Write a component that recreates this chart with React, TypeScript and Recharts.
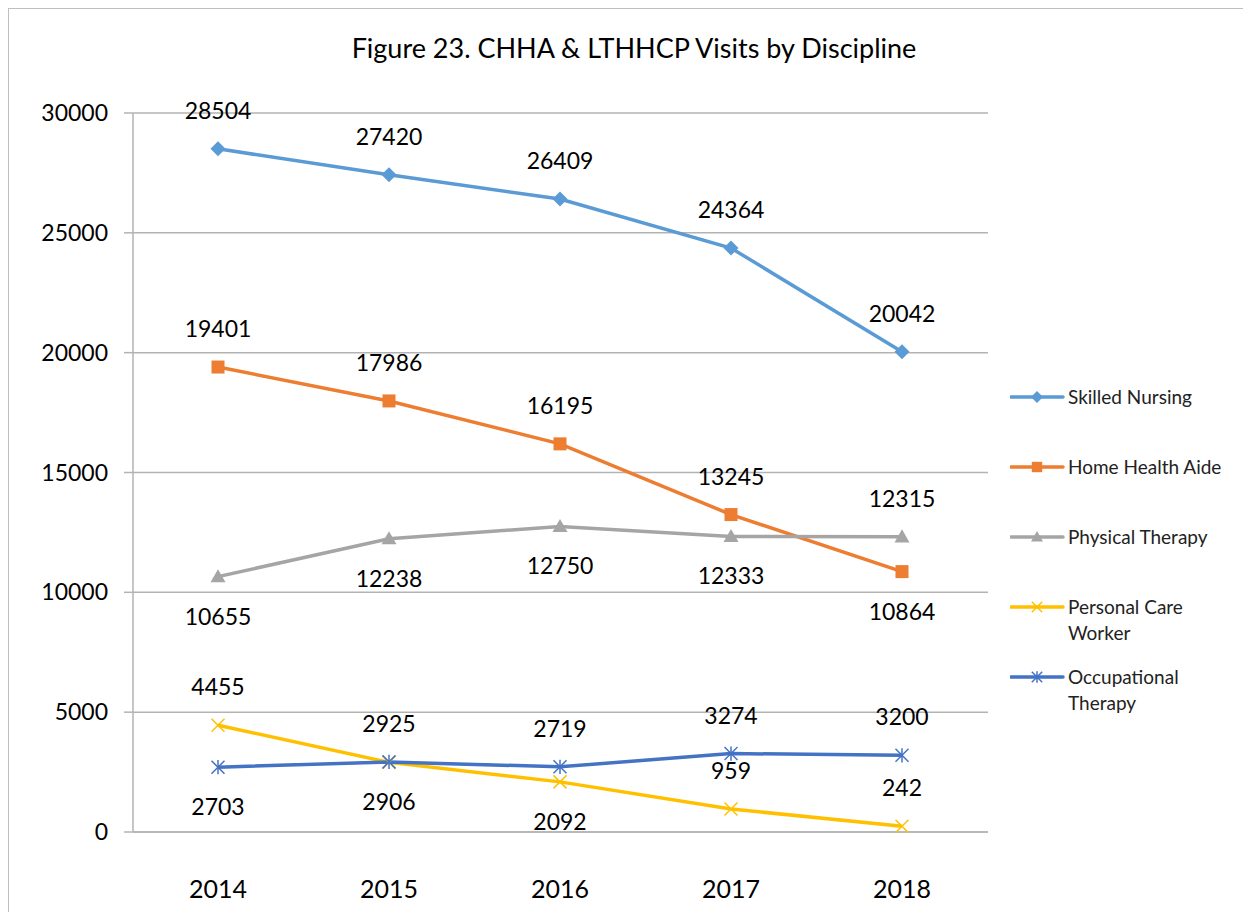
import { LineChart, Line, XAxis, YAxis, CartesianGrid, Legend, LabelList } from 'recharts'

const years = ['2014', '2015', '2016', '2017', '2018']
const skilledNursing = [28504, 27420, 26409, 24364, 20042]
const homeHealthAide = [19401, 17986, 16195, 13245, 10864]
const physicalTherapy = [10655, 12238, 12750, 12333, 12315]
const personalCare = [4455, 2906, 2092, 959, 242]
const occupational = [2703, 2925, 2719, 3274, 3200]
const yTicks = [0, 5000, 10000, 15000, 20000, 25000, 30000]

const FONT = 'Lato, "Noto Sans", sans-serif'

const data = years.map((year, i) => ({
    year,
    sn: skilledNursing[i],
    hha: homeHealthAide[i],
    pt: physicalTherapy[i],
    pcw: personalCare[i],
    ot: occupational[i],
}))

type Marker = 'diamond' | 'square' | 'triangle' | 'x' | 'star'

// label side per point: u = above, d = below
const series: Array<{ key: string; name: string[]; color: string; marker: Marker; sides: string }> = [
    { key: 'sn', name: ['Skilled Nursing'], color: '#5b9bd5', marker: 'diamond', sides: 'uuuuu' },
    { key: 'hha', name: ['Home Health Aide'], color: '#ed7d31', marker: 'square', sides: 'uuuud' },
    { key: 'pt', name: ['Physical Therapy'], color: '#a5a5a5', marker: 'triangle', sides: 'ddddu' },
    { key: 'pcw', name: ['Personal Care', 'Worker'], color: '#ffc000', marker: 'x', sides: 'uddu u'.replace(' ', '') },
    { key: 'ot', name: ['Occupational', 'Therapy'], color: '#4472c4', marker: 'star', sides: 'duuuu' },
]

function MarkerShape({ cx, cy, marker, color, s = 1 }: { cx: number; cy: number; marker: Marker; color: string; s?: number }) {
    if (cx == null || cy == null) return null
    if (marker === 'diamond') {
        const r = 7.5 * s
        return <polygon points={`${cx},${cy - r} ${cx + r},${cy} ${cx},${cy + r} ${cx - r},${cy}`} fill={color} />
    }
    if (marker === 'square') {
        const r = 6.5 * s
        return <rect x={cx - r} y={cy - r} width={r * 2} height={r * 2} fill={color} />
    }
    if (marker === 'triangle') {
        const r = 7.5 * s
        return <polygon points={`${cx},${cy - r} ${cx + r},${cy + r * 0.75} ${cx - r},${cy + r * 0.75}`} fill={color} />
    }
    const r = 6.5 * s
    return (
        <g stroke={color} strokeWidth={1.5}>
            <line x1={cx - r} y1={cy - r} x2={cx + r} y2={cy + r} />
            <line x1={cx - r} y1={cy + r} x2={cx + r} y2={cy - r} />
            {marker === 'star' && <line x1={cx} y1={cy - r * 1.1} x2={cx} y2={cy + r * 1.1} />}
        </g>
    )
}

const makeLabel = (sides: string) => (props: any) => {
    const { x, y, value, index } = props
    const up = sides[index] === 'u'
    return (
        <text x={x} y={up ? y - 38 : y + 40} dy="0.35em" textAnchor="middle" fontSize={23} fill="#000" fontFamily={FONT}>
            {value}
        </text>
    )
}

const LegendBox = () => (
    <div style={{ fontFamily: FONT, fontSize: 19, color: '#222' }}>
        {series.map((s) => (
            <div key={s.key} style={{ height: 70, display: 'flex', alignItems: 'flex-start' }}>
                <svg width={56} height={26} style={{ flex: 'none' }}>
                    <line x1={1} y1={13} x2={53} y2={13} stroke={s.color} strokeWidth={3.5} strokeLinecap="round" />
                    <MarkerShape cx={27} cy={13} marker={s.marker} color={s.color} s={0.8} />
                </svg>
                <div style={{ marginLeft: 2, lineHeight: '26px' }}>
                    {s.name.map((n) => (
                        <div key={n} style={{ whiteSpace: 'nowrap' }}>{n}</div>
                    ))}
                </div>
            </div>
        ))}
    </div>
)

export default function App() {
    return (
        <div
            style={{
                position: 'relative',
                width: 1242,
                height: 903,
                borderLeft: '1px solid #bfbfbf',
                borderTop: '1px solid #bfbfbf',
                background: '#fff',
                fontFamily: FONT,
            }}
        >
            <div
                style={{
                    position: 'absolute',
                    left: 0,
                    width: 1250,
                    top: 22,
                    textAlign: 'center',
                    fontSize: 27,
                    color: '#000',
                    lineHeight: '34px',
                }}
            >
                Figure 23. CHHA &amp; LTHHCP Visits by Discipline
            </div>
            <LineChart width={1242} height={903} data={data} margin={{ top: 104, right: 263, bottom: 20, left: 44 }}>
                <CartesianGrid vertical={false} stroke="#b3b3b3" strokeWidth={1.5} />
                <XAxis
                    dataKey="year"
                    padding={{ left: 85, right: 86 }}
                    axisLine={{ stroke: '#b3b3b3', strokeWidth: 1.5 }}
                    tickLine={false}
                    tickSize={0}
                    tickMargin={48}
                    height={60}
                    tick={{ fill: '#000', fontSize: 25, fontFamily: FONT }}
                />
                <YAxis
                    domain={[0, 30000]}
                    ticks={yTicks}
                    width={80}
                    axisLine={{ stroke: '#b3b3b3', strokeWidth: 1.5 }}
                    tickLine={{ stroke: '#b3b3b3', strokeWidth: 1.5 }}
                    tickSize={9}
                    tickMargin={16}
                    tick={{ fill: '#000', fontSize: 23, fontFamily: FONT }}
                />
                <Legend
                    layout="horizontal"
                    verticalAlign="middle"
                    content={<LegendBox />}
                    wrapperStyle={{ position: 'absolute', left: 1001, top: 375, width: 240 }}
                />
                {series.map((s) => (
                    <Line
                        key={s.key}
                        dataKey={s.key}
                        name={s.name.join(' ')}
                        type="linear"
                        stroke={s.color}
                        strokeWidth={3.5}
                        dot={(p: any) => <MarkerShape key={p.index} cx={p.cx} cy={p.cy} marker={s.marker} color={s.color} />}
                        activeDot={false}
                        isAnimationActive={false}
                    >
                        <LabelList dataKey={s.key} content={makeLabel(s.sides)} />
                    </Line>
                ))}
            </LineChart>
        </div>
    )
}
